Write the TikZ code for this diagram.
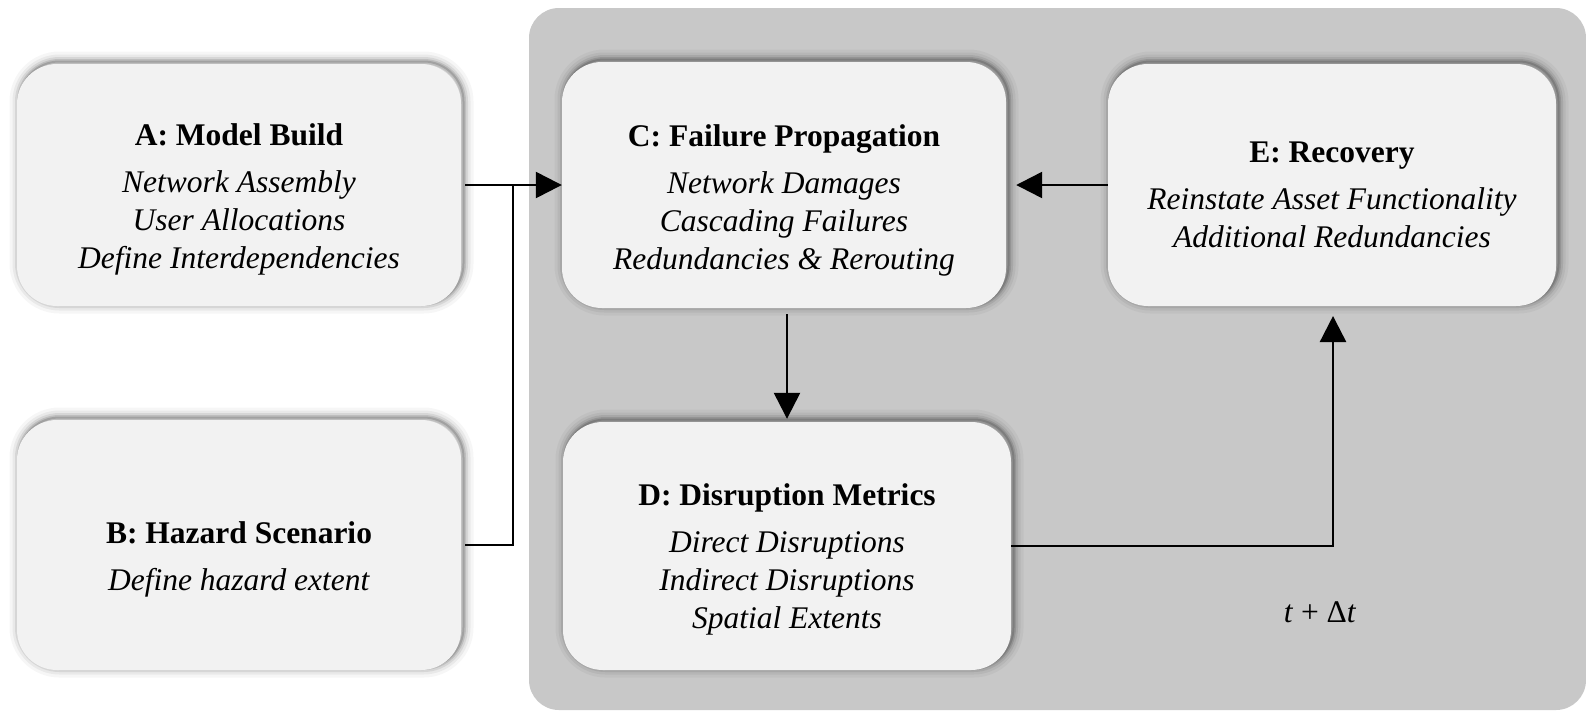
\documentclass[tikz,border=0pt]{standalone}
\usepackage{fontspec}
\setmainfont{Liberation Serif}
\usetikzlibrary{arrows.meta}
\definecolor{panelgray}{HTML}{C8C8C8}
\definecolor{boxfill}{HTML}{F2F2F2}
\newcommand{\toprule}[1]{\rule{0pt}{#1}}
\tikzset{
  box/.style={rounded corners=40pt, fill=boxfill, align=center, inner sep=0pt,
    font=\fontsize{31.5}{38}\selectfont,
    preaction={draw=black, draw opacity=0.035, line width=20pt, transform canvas={xshift=2.5pt,yshift=2.5pt}},
    preaction={draw=black, draw opacity=0.05, line width=14pt, transform canvas={xshift=2.5pt,yshift=2.5pt}},
    preaction={draw=black, draw opacity=0.08, line width=9pt, transform canvas={xshift=2.5pt,yshift=2.5pt}},
    preaction={draw=black, draw opacity=0.11, line width=5pt, transform canvas={xshift=2.5pt,yshift=2.5pt}},
    preaction={draw=black, draw opacity=0.15, line width=2pt, transform canvas={xshift=2.5pt,yshift=2.5pt}}},
  conn/.style={line width=2.4pt, draw=black},
  arr/.style={conn, -{Triangle[length=26pt,width=26pt]}},
  lbl/.style={font=\fontsize{31.5}{38}\selectfont, inner sep=0pt}
}
\begin{document}
\begin{tikzpicture}[x=1pt,y=-1pt]
\fill[white] (0,0) rectangle (1586,710);
\fill[panelgray, rounded corners=30pt] (529,8) rectangle (1586,710);

\node[box, minimum width=444pt, minimum height=242pt] (A) at (239,185)
  {\toprule{50pt}\textbf{A: Model Build}\\[9pt]\textit{Network Assembly}\\\textit{User Allocations}\\\textit{Define Interdependencies}};
\node[box, minimum width=444pt, minimum height=250pt] (B) at (239,545)
  {\toprule{50pt}\textbf{B: Hazard Scenario}\\[9pt]\textit{Define hazard extent}};
\node[box, minimum width=444pt, minimum height=246pt] (C) at (784,185)
  {\toprule{52pt}\textbf{C: Failure Propagation}\\[9pt]\textit{Network Damages}\\\textit{Cascading Failures}\\\textit{Redundancies \& Rerouting}};
\node[box, minimum width=448pt, minimum height=248pt] (D) at (787,546)
  {\toprule{48pt}\textbf{D: Disruption Metrics}\\[9pt]\textit{Direct Disruptions}\\\textit{Indirect Disruptions}\\\textit{Spatial Extents}};
\node[box, minimum width=448pt, minimum height=242pt] (E) at (1332,185)
  {\toprule{40pt}\textbf{E: Recovery}\\[9pt]\textit{Reinstate Asset Functionality}\\\textit{Additional Redundancies}};

\coordinate (J) at (513,185);
\coordinate (Ein) at (1333,306);

\draw[arr, shorten <=4pt] (A.east) -- (C.west);
\draw[conn, shorten <=4pt] (B.east) -| (J);
\draw[arr, shorten >=10pt] (E.west) -- (C.east);
\draw[arr, shorten <=6pt, shorten >=3pt] (C.south -| D.north) -- (D.north);
\draw[arr, shorten >=10pt] (D.east) -| (Ein);

\node[lbl] (dt) at (1320,612) {\textit{t} + Δ\textit{t}};

\pgfresetboundingbox
\useasboundingbox (0,0) rectangle (1586,710);
\end{tikzpicture}
\end{document}
